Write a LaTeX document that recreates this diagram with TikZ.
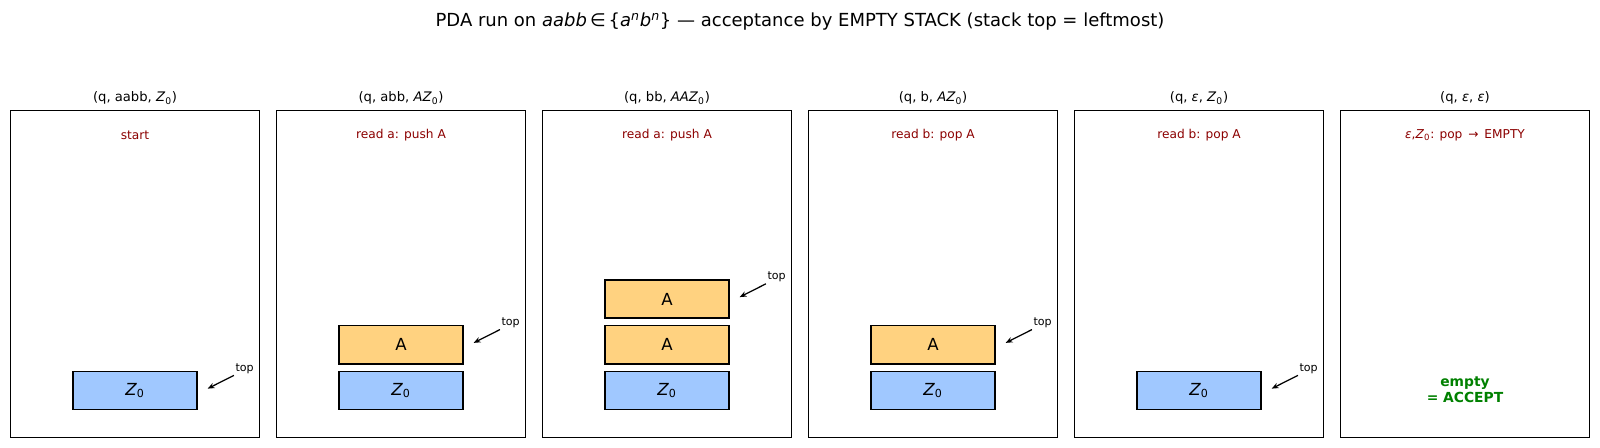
\documentclass[tikz,border=0pt]{standalone}
\usepackage{fontspec}
\setmainfont{DejaVu Sans}
\usepackage{xcolor}
\usetikzlibrary{positioning,arrows.meta,calc}
\definecolor{pushfill}{HTML}{FFD280}
\definecolor{basefill}{HTML}{A0C8FF}
\definecolor{ruletext}{HTML}{8B0000}
\definecolor{accgreen}{HTML}{008000}
\newcommand{\Zo}{\textit{Z}\textsubscript{0}}
\newcommand{\eps}{\textit{ε}}
\tikzset{
  panel/.style={draw=black,line width=0.8pt,minimum width=2.48in,minimum height=3.26in,inner sep=0pt},
  conf/.style={font=\fontsize{9.5}{11}\selectfont,inner sep=0pt},
  rule/.style={font=\fontsize{8.8}{10}\selectfont,text=ruletext,inner sep=0pt},
  cell/.style={draw=black,line width=0.9pt,minimum width=1.24in,minimum height=0.38in,inner sep=0pt,font=\fontsize{12}{14}\selectfont},
  zcell/.style={cell,fill=basefill},
  acell/.style={cell,fill=pushfill},
  toplbl/.style={font=\fontsize{8}{10}\selectfont,inner sep=1pt},
  toparrow/.style={-{Stealth[length=5pt,width=4pt]},line width=0.9pt}
}
\begin{document}
\begin{tikzpicture}[x=0.01in,y=-0.01in]
\useasboundingbox (0,0) rectangle (1600,447);
\node[font=\fontsize{13}{15}\selectfont] (title) at (800,22) {PDA run on \textit{aabb}\,∈\,\{\textit{a}\textsuperscript{\textit{n}}\textit{b}\textsuperscript{\textit{n}}\} — acceptance by EMPTY STACK (stack top = leftmost)};
% panels
\node[panel] (p1) at (135,274) {};
\node[panel] (p2) at (401,274) {};
\node[panel] (p3) at (667,274) {};
\node[panel] (p4) at (933,274) {};
\node[panel] (p5) at (1199,274) {};
\node[panel] (p6) at (1465,274) {};
\node[conf] (h1) at ($(p1.north)+(0,-12)$) {(q, aabb, \Zo)};
\node[conf] (h2) at ($(p2.north)+(0,-12)$) {(q, abb, \textit{A}\Zo)};
\node[conf] (h3) at ($(p3.north)+(0,-12)$) {(q, bb, \textit{AA}\Zo)};
\node[conf] (h4) at ($(p4.north)+(0,-12)$) {(q, b, \textit{A}\Zo)};
\node[conf] (h5) at ($(p5.north)+(0,-12)$) {(q, \eps, \Zo)};
\node[conf] (h6) at ($(p6.north)+(0,-12)$) {(q, \eps, \eps)};
\node[rule] (r1) at ($(p1.north)+(0,25)$) {start};
\node[rule] (r2) at ($(p2.north)+(0,25)$) {read a: push A};
\node[rule] (r3) at ($(p3.north)+(0,25)$) {read a: push A};
\node[rule] (r4) at ($(p4.north)+(0,25)$) {read b: pop A};
\node[rule] (r5) at ($(p5.north)+(0,25)$) {read b: pop A};
\node[rule] (r6) at ($(p6.north)+(0,25)$) {\eps,\Zo: pop \,→\, EMPTY};
% stacks
\node[zcell] (z1) at ($(p1.south)+(0,-47)$) {\Zo};
\node[zcell] (z2) at ($(p2.south)+(0,-47)$) {\Zo};
\node[acell,above=0.065in of z2] (a2) {A};
\node[zcell] (z3) at ($(p3.south)+(0,-47)$) {\Zo};
\node[acell,above=0.065in of z3] (a3) {A};
\node[acell,above=0.065in of a3] (b3) {A};
\node[zcell] (z4) at ($(p4.south)+(0,-47)$) {\Zo};
\node[acell,above=0.065in of z4] (a4) {A};
\node[zcell] (z5) at ($(p5.south)+(0,-47)$) {\Zo};
\node[font=\bfseries\fontsize{10}{12}\selectfont,text=accgreen,align=center,inner sep=0pt] (acc) at ($(p6.south)+(0,-48)$) {empty\\= ACCEPT};
% top markers
\node[toplbl] (t1) at ($(z1.east)+(47,-22)$) {top};
\node[toplbl] (t2) at ($(a2.east)+(47,-22)$) {top};
\node[toplbl] (t3) at ($(b3.east)+(47,-22)$) {top};
\node[toplbl] (t4) at ($(a4.east)+(47,-22)$) {top};
\node[toplbl] (t5) at ($(z5.east)+(47,-22)$) {top};
\coordinate (k1) at ($(z1.east)+(10,-2)$);
\coordinate (k2) at ($(a2.east)+(10,-2)$);
\coordinate (k3) at ($(b3.east)+(10,-2)$);
\coordinate (k4) at ($(a4.east)+(10,-2)$);
\coordinate (k5) at ($(z5.east)+(10,-2)$);
\draw[toparrow] (t1.south west) -- (k1);
\draw[toparrow] (t2.south west) -- (k2);
\draw[toparrow] (t3.south west) -- (k3);
\draw[toparrow] (t4.south west) -- (k4);
\draw[toparrow] (t5.south west) -- (k5);
\end{tikzpicture}
\end{document}
